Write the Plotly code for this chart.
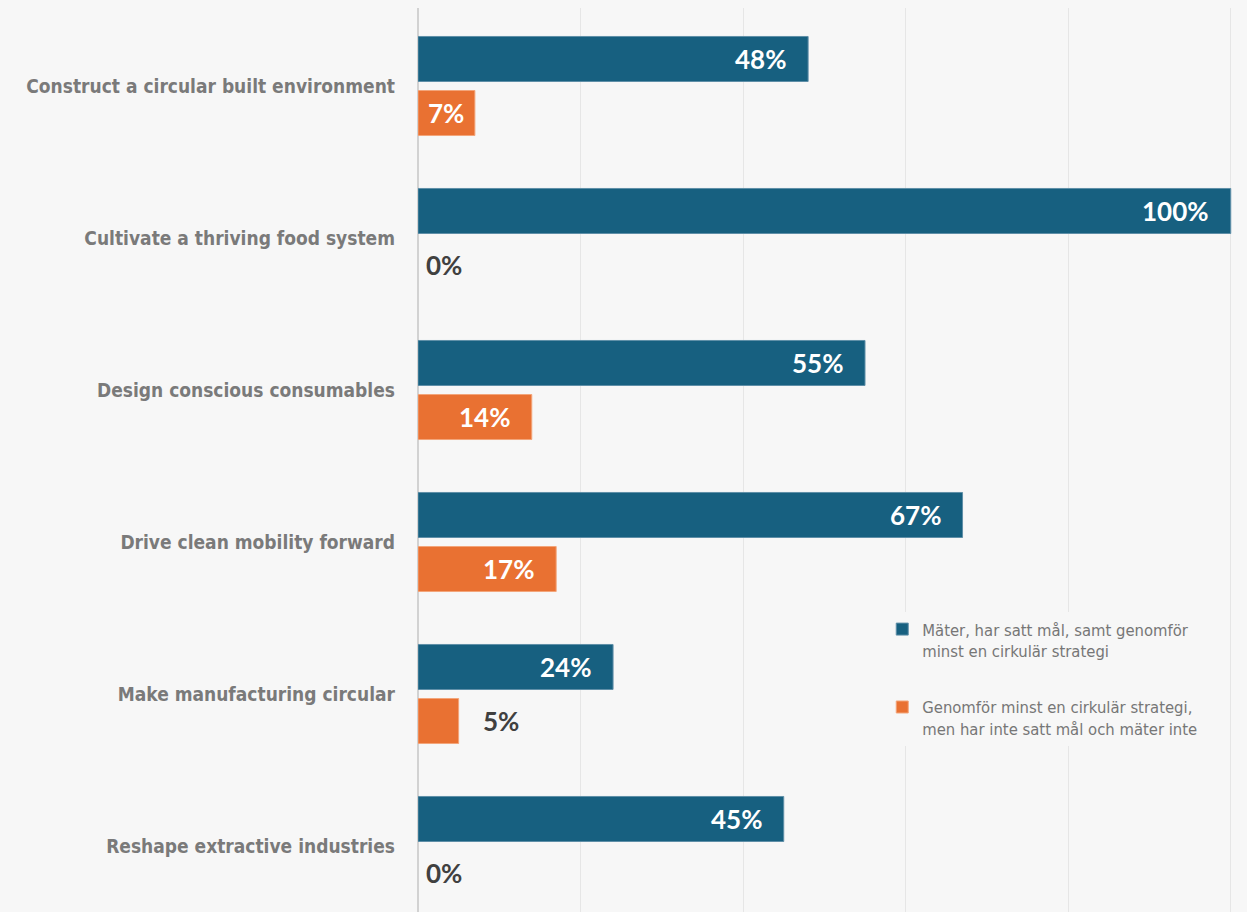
import plotly.graph_objects as go

# Share of companies per circular-economy area
categories = [
    "Construct a circular built environment",
    "Cultivate a thriving food system",
    "Design conscious consumables",
    "Drive clean mobility forward",
    "Make manufacturing circular",
    "Reshape extractive industries",
]
series_names = [
    "Mäter, har satt mål, samt genomför<br>minst en cirkulär strategi",
    "Genomför minst en cirkulär strategi,<br>men har inte satt mål och mäter inte",
]
measuring_goals = [48, 100, 55, 67, 24, 45]
strategy_only = [7, 0, 14, 17, 5, 0]

BLUE = "#176080"
ORANGE = "#e97132"
BG = "#f7f7f7"
LABEL_FONT = "DejaVu Sans Condensed, Liberation Sans Narrow, sans-serif"
VALUE_FONT = "Lato, Open Sans, sans-serif"

W, H = 1247, 912
ML, MR, MT, MB = 418, 0, 8, 0
X_MAX = 102
px_per_unit = (W - ML - MR) / X_MAX
row_px = 152
first_row_px = 86
y_top = -(first_row_px - MT) / row_px
y_bottom = y_top + (H - MT - MB) / row_px

fig = go.Figure()
series = [(series_names[0], measuring_goals, BLUE, "#5f8fa8"),
          (series_names[1], strategy_only, ORANGE, "#f3a57a")]
for k, (name, vals, color, edge) in enumerate(series):
    fig.add_trace(go.Bar(
        y=categories, x=vals, name=name, orientation="h",
        legendgroup=f"g{k}",
        marker=dict(color=color,
                    line=dict(color=edge, width=[1 if v > 0 else 0 for v in vals])),
        hoverinfo="skip",
    ))

# value labels: inside-end, centred, or outside depending on bar length
annotations = []
bar_offsets = [-0.5, 0.5]
slot = (1 - 0.289) / 2
for s, (name, vals, color, edge) in enumerate(series):
    for i, v in enumerate(vals):
        label = f"{v}%"
        y_pos = i + bar_offsets[s] * slot
        text_w = len(label) * 17
        bar_w = v * px_per_unit
        if v == 0:
            x, anchor, shift, fc = 0, "left", 6, "#404040"
        elif bar_w >= text_w + 40:
            x, anchor, shift, fc = v, "right", -20, "white"
        elif bar_w >= text_w + 10:
            x, anchor, shift, fc = v / 2, "center", 0, "white"
        else:
            x, anchor, shift, fc = v, "left", 22, "#404040"
        annotations.append(dict(
            x=x, y=y_pos, xref="x", yref="y", text=f"<b>{label}</b>",
            showarrow=False, xanchor=anchor, xshift=shift, yanchor="middle",
            font=dict(family=VALUE_FONT, size=26, color=fc),
        ))

fig.update_layout(
    width=W, height=H,
    margin=dict(l=ML, r=MR, t=MT, b=MB, pad=0, autoexpand=False),
    paper_bgcolor=BG, plot_bgcolor=BG,
    barmode="group", bargap=0.289, bargroupgap=0.167,
    annotations=annotations,
    legend=dict(
        x=0.56, y=0.332, xanchor="left", yanchor="top",
        bgcolor=BG, borderwidth=0,
        font=dict(family=LABEL_FONT, size=16.5, color="#767676"),
        traceorder="grouped", valign="top", tracegroupgap=32,
        itemwidth=30, itemclick=False,
    ),
    xaxis=dict(
        range=[0, X_MAX], tickvals=[0, 20, 40, 60, 80, 100],
        showticklabels=False, showgrid=True, gridcolor="#e6e6e6", gridwidth=1,
        zeroline=True, zerolinecolor="#d2d2d2", zerolinewidth=2, fixedrange=True,
        automargin=False,
    ),
    yaxis=dict(
        type="category", categoryorder="array", categoryarray=categories,
        range=[y_bottom, y_top], showgrid=False, zeroline=False,
        ticks="", ticklabelstandoff=22, automargin=False,
        tickfont=dict(family=LABEL_FONT, size=19, color="#7a7a7a", weight="bold"),
        fixedrange=True,
    ),
    showlegend=True,
)

fig.write_html("out.html")
